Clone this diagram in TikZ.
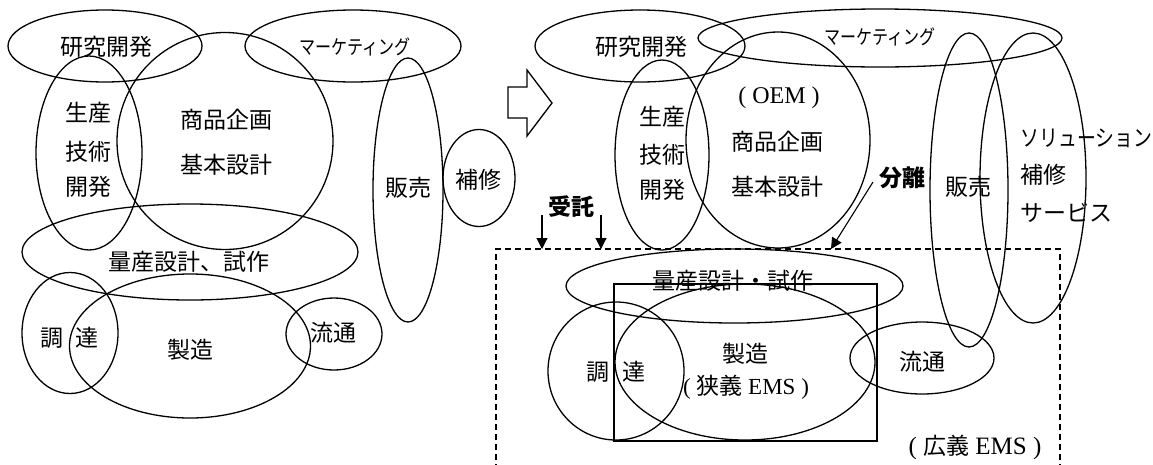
\documentclass[tikz,border=0pt]{standalone}
\usepackage{fontspec}
\usepackage{graphicx}
\setmainfont{Noto Sans CJK JP}
\newfontfamily\lat{Liberation Serif}
\usetikzlibrary{shapes.geometric,arrows.meta}
\begin{document}
\begin{tikzpicture}[x=1pt,y=-1pt,line width=1.3pt,
  ell/.style={draw,ellipse,inner sep=0pt},
  lbl/.style={font=\fontsize{23pt}{25pt}\selectfont,inner sep=0pt},
  latlbl/.style={font=\fontsize{24pt}{26pt}\selectfont,inner sep=0pt},
  smalllbl/.style={font=\fontsize{20pt}{22pt}\selectfont,inner sep=0pt},
  boldlbl/.style={font=\fontsize{23pt}{25pt}\selectfont\bfseries,inner sep=0pt},
  arr/.style={line width=1.1pt,-{Triangle[length=11pt,width=11pt]}},
  dashbox/.style={line width=1.3pt,dash pattern=on 6pt off 4pt}]
\useasboundingbox (0,0) rectangle (1153,464);
% ---------------- left diagram ----------------
\node[ell,minimum width=194pt,minimum height=72pt] (kenL) at (105,46) {};
\node[ell,minimum width=216pt,minimum height=72pt] (mktL) at (353,46) {};
\node[ell,minimum width=216pt,minimum height=217pt] (shoL) at (225,141) {};
\node[ell,minimum width=106pt,minimum height=194pt] (seiL) at (89,153) {};
\node[ell,minimum width=70pt,minimum height=264pt] (hanL) at (408,190) {};
\node[ell,minimum width=72pt,minimum height=97pt] (hoL) at (479,178) {};
\node[ell,minimum width=336pt,minimum height=96pt] (ryoL) at (190,252) {};
\node[ell,minimum width=96pt,minimum height=121pt] (choL) at (70,333) {};
\node[ell,minimum width=241pt,minimum height=144pt] (seizoL) at (190,346) {};
\node[ell,minimum width=96pt,minimum height=72pt] (ryuL) at (334,334) {};

\node[lbl] (tkenL) at (106,47) {研究開発};
\node[smalllbl] (tmktL) at (355,47) {\scalebox{0.8}[1]{マーケティング}};
\node[lbl] (tsei1L) at (88,113) {生産};
\node[lbl] (tsei2L) at (88,152) {技術};
\node[lbl] (tsei3L) at (88,187) {開発};
\node[lbl] (tsho1L) at (226,120) {商品企画};
\node[lbl] (tsho2L) at (226,165) {基本設計};
\node[lbl] (thanL) at (408,188) {販売};
\node[lbl] (thoL) at (478,180) {補修};
\node[lbl] (tryoL) at (189,262) {量産設計、試作};
\node[lbl] (tcho1L) at (52,338) {調};
\node[lbl] (tcho2L) at (87,338) {達};
\node[lbl] (tseizoL) at (190,350) {製造};
\node[lbl] (tryuL) at (333,333) {流通};

% ---------------- block arrow ----------------
\draw[line width=1.3pt] (508,87) -- (527,87) -- (527,70) -- (552,103) -- (527,136) -- (527,118) -- (508,118) -- cycle;

% ---------------- right diagram ----------------
\node[ell,minimum width=210pt,minimum height=72pt] (kenR) at (640,46) {};
\node[ell,minimum width=364pt,minimum height=58pt] (mktR) at (880,38) {};
\node[ell,minimum width=94pt,minimum height=190pt] (seiR) at (662,155) {};
\node[ell,minimum width=184pt,minimum height=216pt] (shoR) at (778,140) {};
\node[ell,minimum width=78pt,minimum height=314pt] (hanR) at (969,190) {};
\node[ell,minimum width=106pt,minimum height=290pt] (solR) at (1033,178) {};
\node[ell,minimum width=337pt,minimum height=74pt] (ryoR) at (734.5,286) {};
\node[ell,minimum width=136pt,minimum height=138pt] (choR) at (616,371) {};
\node[ell,minimum width=260pt,minimum height=156pt] (seizoR) at (745,362) {};
\node[ell,minimum width=144pt,minimum height=72pt] (ryuR) at (922,358) {};
\node[draw,rectangle,inner sep=0pt,minimum width=263pt,minimum height=157pt] (ems) at (745.5,362.5) {};
\coordinate (dbl) at (496,470);
\coordinate (dtl) at (496,249);
\coordinate (dtr) at (1060,249);
\coordinate (dbr) at (1060,470);
\draw[dashbox] (dbl) -- (dtl) -- (dtr) -- (dbr);

\node[lbl] (tkenR) at (641,47) {研究開発};
\node[smalllbl] (tmktR) at (880,37) {\scalebox{0.8}[1]{マーケティング}};
\node[lbl] (tsei1R) at (662,117) {生産};
\node[lbl] (tsei2R) at (662,155) {技術};
\node[lbl] (tsei3R) at (662,190) {開発};
\node[latlbl] (toem) at (779,98) {\lat(\ OEM\ )};
\node[lbl] (tsho1R) at (777,142) {商品企画};
\node[lbl] (tsho2R) at (777,187) {基本設計};
\node[boldlbl] (tbunri) at (902,178) {分離};
\node[lbl] (thanR) at (968,187) {販売};
\node[lbl,anchor=west] (tsol) at (1020,138) {\scalebox{0.82}[1]{ソリューション}};
\node[lbl,anchor=west] (thoR) at (1020,175) {補修};
\node[lbl,anchor=west] (tserv) at (1020,213) {サービス};
\node[boldlbl] (tjutaku) at (571,207) {受託};
\node[lbl] (tryoR) at (733,281) {量産設計・試作};
\node[lbl] (tcho1R) at (598,372) {調};
\node[lbl] (tcho2R) at (634,372) {達};
\node[lbl] (tseizoR) at (745,354) {製造};
\node[lbl] (tnarrow) at (746,387) {{\lat(\ }狭義{\lat\ EMS\ )}};
\node[lbl] (tryuR) at (922,362) {流通};
\node[lbl] (twide) at (975,447) {{\lat\fontsize{25pt}{27pt}\selectfont(\ }広義{\lat\fontsize{25pt}{27pt}\selectfont\ EMS\ )}};

% ---------------- arrows ----------------
\coordinate (ja1) at (542,215);
\coordinate (jb1) at (542,249);
\coordinate (ja2) at (601,215);
\coordinate (jb2) at (601,249);
\coordinate (ba) at (873,182);
\coordinate (bb) at (831,249);
\draw[arr] (ja1) -- (jb1);
\draw[arr] (ja2) -- (jb2);
\draw[arr] (ba) -- (bb);
\end{tikzpicture}
\end{document}
